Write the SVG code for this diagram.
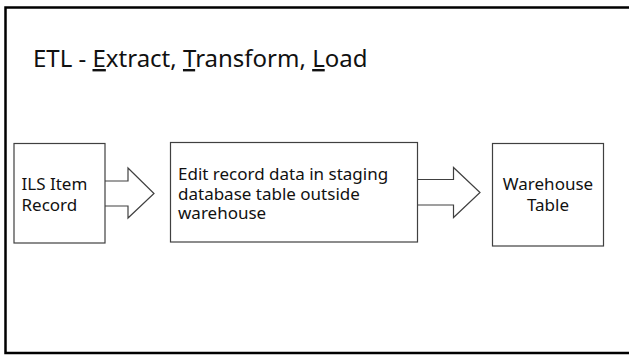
<svg xmlns="http://www.w3.org/2000/svg" width="629" height="355" viewBox="0 0 629 355">
<style>
.box{fill:#fff;stroke:#404040;stroke-width:1.2}
.arr{fill:#fff;stroke:#404040;stroke-width:1.2}
.t{font-family:"Noto Sans","Open Sans",sans-serif;font-size:17px;fill:#111}
.title{font-family:"Noto Sans","Open Sans",sans-serif;font-size:24px;fill:#111}
</style>
<rect x="0" y="0" width="629" height="355" fill="#fff"/>
<path d="M629,7.5 H5.5 V353 H629" fill="none" stroke="#000" stroke-width="2.5" stroke-linecap="butt"/>
<g id="title">
<text class="title" x="33" y="67">ETL - <tspan text-decoration="underline">E</tspan>xtract, <tspan text-decoration="underline">T</tspan>ransform, <tspan text-decoration="underline">L</tspan>oad</text>
</g>
<g id="connectors">
<path class="arr" d="M100,181 H128 V168 L154,193.5 L128,218 V206 H100 Z"/>
<path class="arr" d="M412,179.5 H453.5 V167.5 L480,192.5 L453.5,217.5 V205 H412 Z"/>
</g>
<g id="ils">
<rect class="box" x="14" y="143.5" width="91" height="99.5"/>
<text class="t" x="21.5" y="190">ILS Item</text>
<text class="t" x="21.5" y="211">Record</text>
</g>
<g id="staging">
<rect class="box" x="170.5" y="142.5" width="247" height="99.5"/>
<text class="t" x="178" y="180">Edit record data in staging</text>
<text class="t" x="178" y="199.5">database table outside</text>
<text class="t" x="178" y="219">warehouse</text>
</g>
<g id="warehouse">
<rect class="box" x="492.5" y="143.5" width="111" height="102.5"/>
<text class="t" x="548" y="190" text-anchor="middle">Warehouse</text>
<text class="t" x="548" y="211" text-anchor="middle">Table</text>
</g>
</svg>
